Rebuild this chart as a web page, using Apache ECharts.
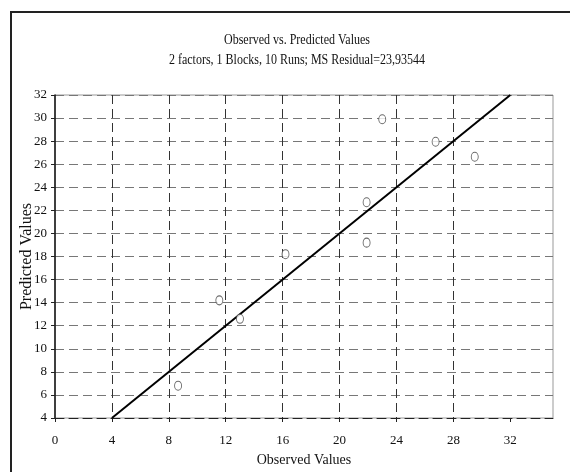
<!DOCTYPE html>
<html>
<head>
<meta charset="utf-8">
<script src="https://cdn.jsdelivr.net/npm/echarts@6/dist/echarts.min.js"></script>
<style>
  html, body { margin: 0; padding: 0; background: #fff; }
  #chart { width: 570px; height: 472px; }
</style>
</head>
<body>
<div id="chart"></div>
<script>
// observed vs predicted
const observed = [8.65, 11.55, 13.0, 16.2, 21.9, 21.9, 23.0, 26.75, 29.5]
const predicted = [6.8, 14.2, 12.6, 18.2, 22.7, 19.2, 29.9, 27.95, 26.65]

// reference line y = x
const fitX = [4, 32]
const fitY = [4, 32]

const xTicks = [0, 4, 8, 12, 16, 20, 24, 28, 32]
const titleText = 'Observed vs. Predicted Values'
const subtitleText = '2 factors, 1 Blocks, 10 Runs; MS Residual=23,93544'

const serif = '"Liberation Serif", "Times New Roman", serif'

const chart = echarts.init(document.getElementById('chart'), null, { renderer: 'canvas' })

const gridDash = { color: '#333', type: [9, 5], width: 1 }

const option = {
  animation: false,
  backgroundColor: '#fff',
  grid: {
    left: 55,
    right: 17,
    top: 95,
    bottom: 52,
    show: true,
    borderColor: '#999',
    borderWidth: 1,
    backgroundColor: 'transparent'
  },
  graphic: [
    // outer frame, runs off the right and bottom edges
    {
      type: 'rect',
      shape: { x: 11, y: 12, width: 600, height: 500 },
      style: { fill: 'none', stroke: '#222', lineWidth: 2 },
      silent: true
    },
    {
      type: 'text',
      x: 297, y: 40, scaleX: 0.8,
      style: { text: titleText, x: 0, y: 0, align: 'center', verticalAlign: 'middle', font: '15px ' + serif, fill: '#111' }
    },
    {
      type: 'text',
      x: 297, y: 60, scaleX: 0.8,
      style: { text: subtitleText, x: 0, y: 0, align: 'center', verticalAlign: 'middle', font: '15px ' + serif, fill: '#111' }
    }
  ],
  xAxis: {
    type: 'value',
    min: 0,
    max: 35,
    interval: 4,
    name: 'Observed Values',
    nameLocation: 'middle',
    nameGap: 35,
    nameMoveOverlap: false,
    nameTextStyle: { fontFamily: serif, fontSize: 14, color: '#111' },
    axisLine: { show: true, lineStyle: { color: '#222', type: [9, 5], width: 1 } },
    axisTick: { show: true, inside: false, length: 4, customValues: xTicks, lineStyle: { color: '#222' } },
    axisLabel: { customValues: xTicks, margin: 16, fontFamily: serif, fontSize: 13, color: '#111' },
    splitLine: { show: true, showMinLine: false, showMaxLine: false, lineStyle: gridDash }
  },
  yAxis: {
    type: 'value',
    min: 4,
    max: 32,
    interval: 2,
    name: 'Predicted Values',
    nameLocation: 'middle',
    nameGap: 20,
    nameMoveOverlap: false,
    nameTextStyle: { fontFamily: serif, fontSize: 16, color: '#111' },
    axisLine: { show: true, lineStyle: { color: '#111', width: 1.5 } },
    axisTick: { show: true, inside: false, length: 4, lineStyle: { color: '#222' } },
    axisLabel: { margin: 8, fontFamily: serif, fontSize: 13, color: '#111' },
    splitLine: { show: true, showMinLine: false, showMaxLine: true, lineStyle: { color: '#777', type: [9, 5], width: 1 } }
  },
  series: [
    {
      name: 'fit',
      type: 'line',
      data: fitX.map((x, i) => [x, fitY[i]]),
      showSymbol: false,
      lineStyle: { color: '#000', width: 2 },
      silent: true,
      z: 3
    },
    {
      name: 'runs',
      type: 'scatter',
      data: observed.map((x, i) => [x, predicted[i]]),
      symbol: 'circle',
      symbolSize: [7, 9],
      itemStyle: { color: '#fff', borderColor: '#444', borderWidth: 1 },
      z: 4
    }
  ]
}

chart.setOption(option)
</script>
</body>
</html>
